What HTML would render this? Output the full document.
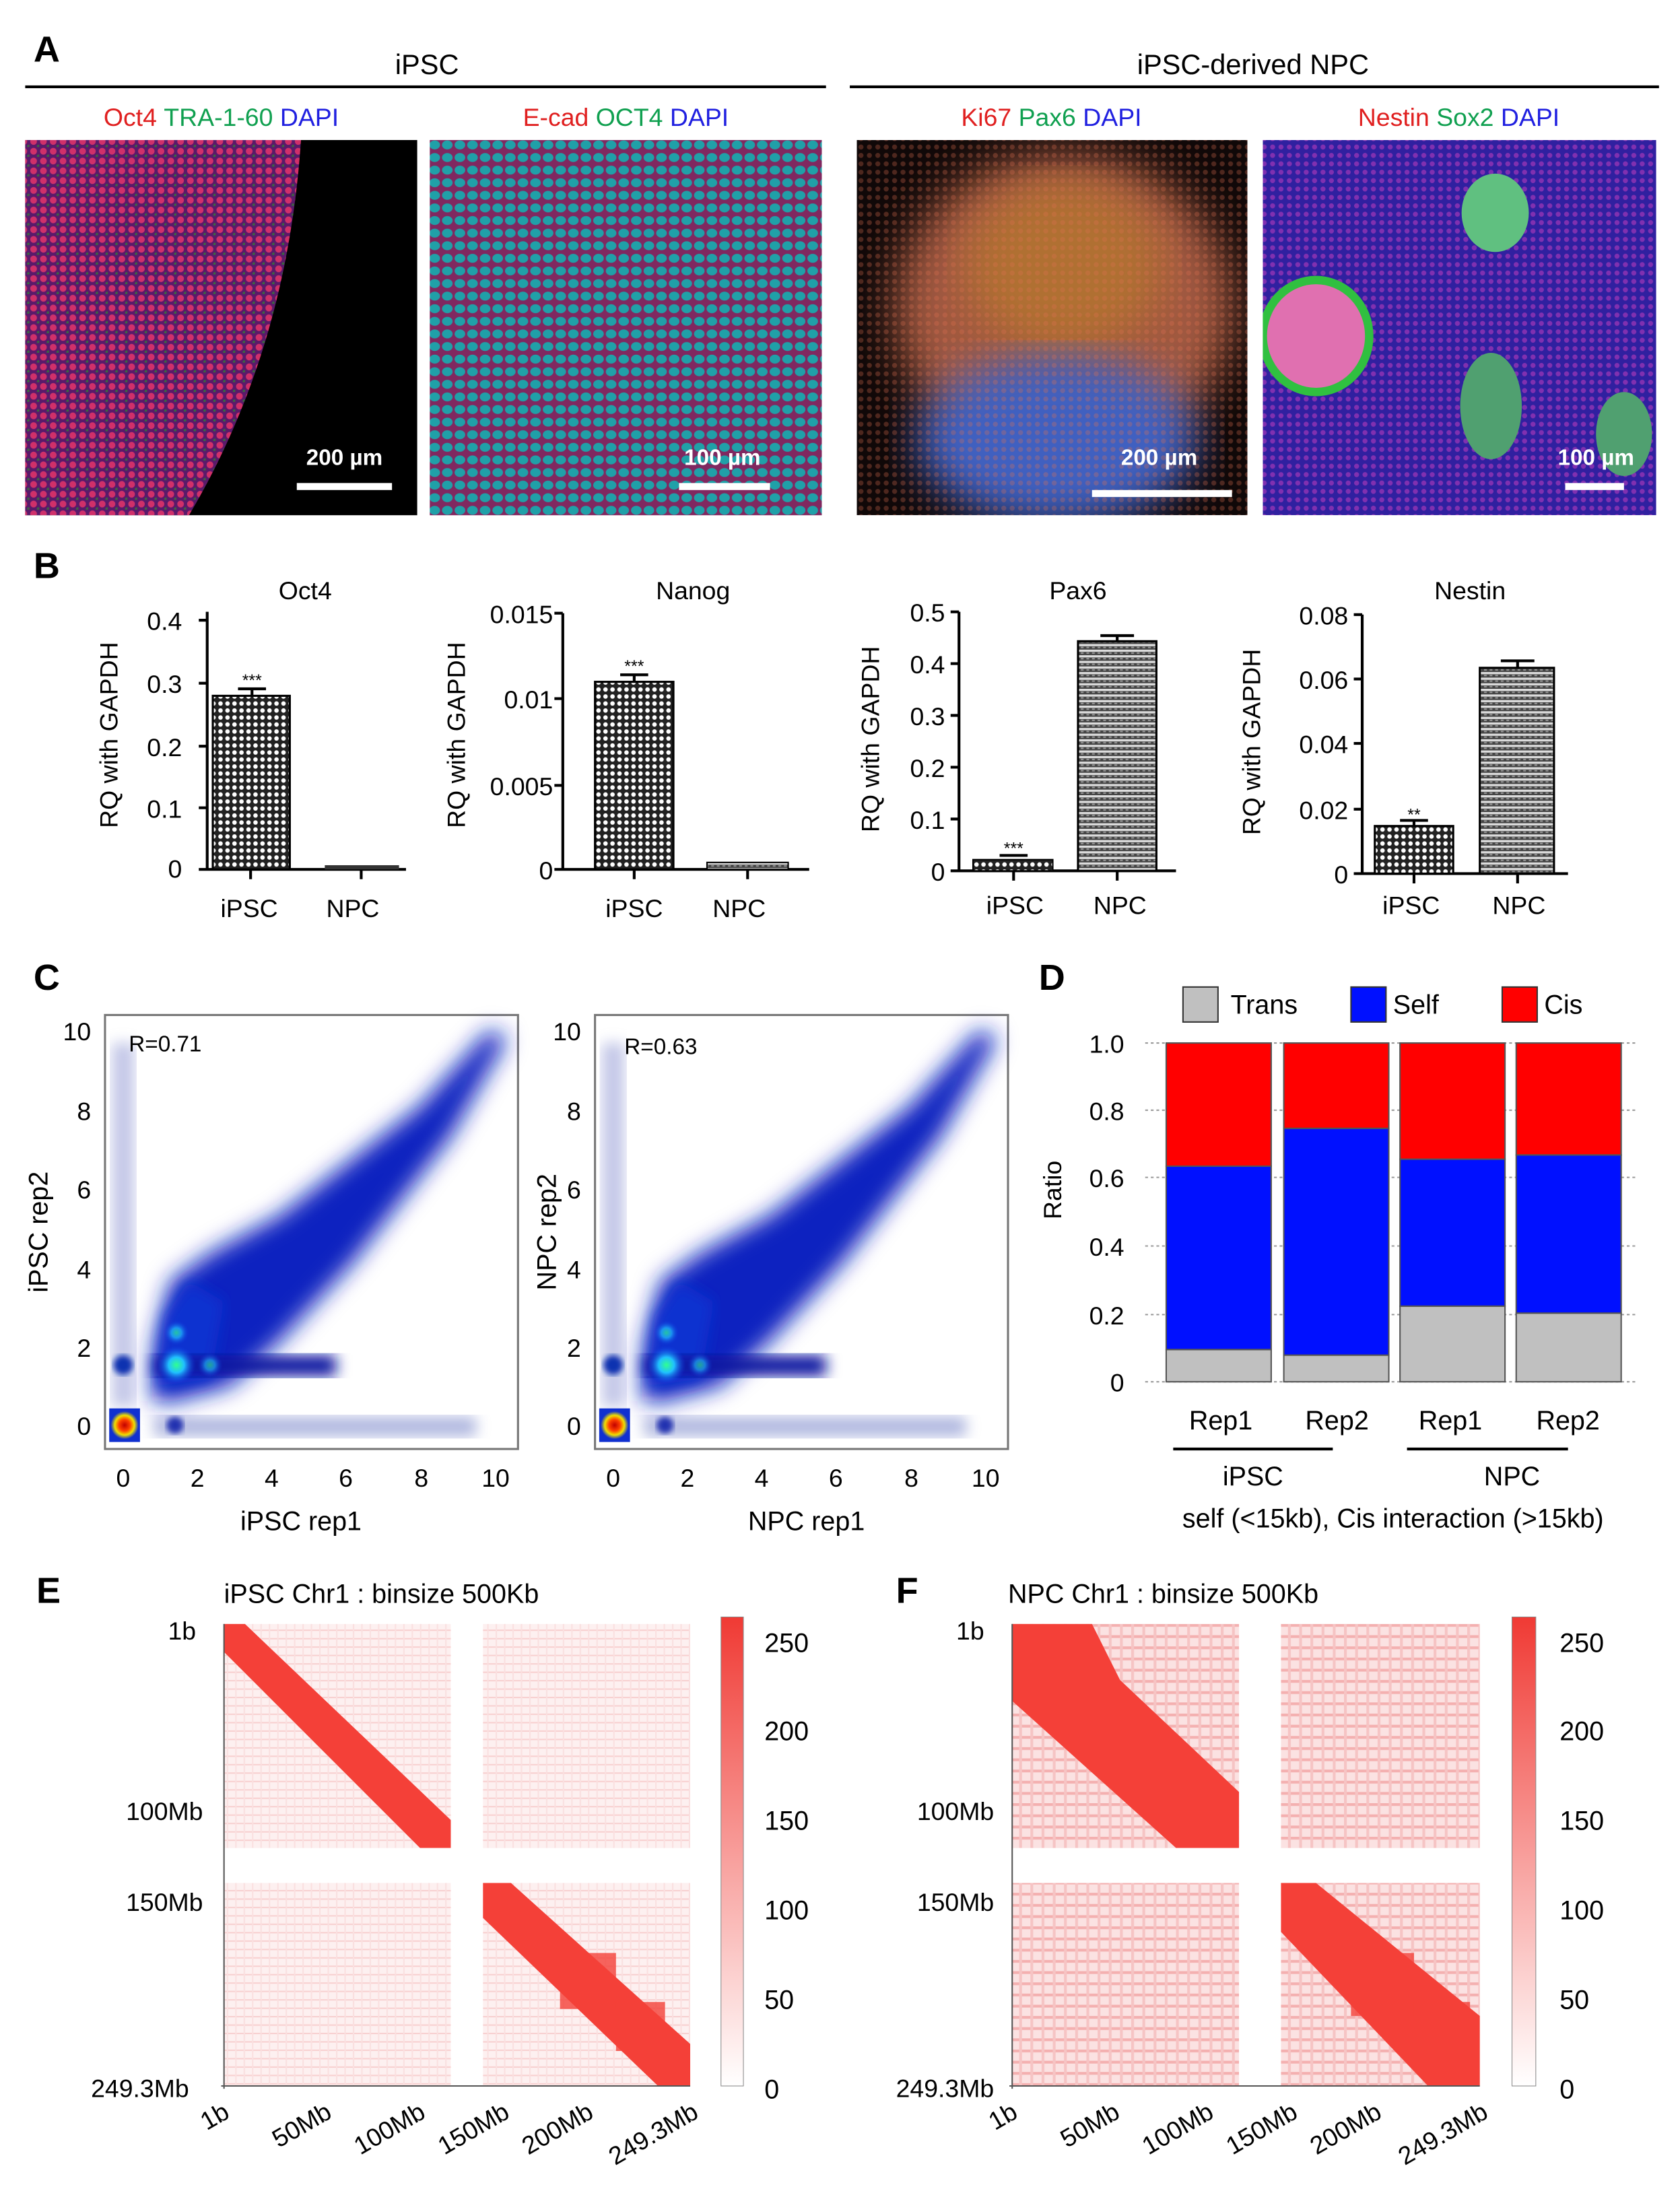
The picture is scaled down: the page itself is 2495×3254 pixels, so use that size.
<!DOCTYPE html>
<html><head><meta charset="utf-8"><style>
html,body{margin:0;padding:0;background:#fff}
svg{display:block}
text{font-family:"Liberation Sans",Arial,sans-serif}
</style></head><body>
<svg width="2495" height="3254" viewBox="0 0 1200 1565" xmlns="http://www.w3.org/2000/svg">
<defs>
<filter id="b2"><feGaussianBlur stdDeviation="2"/></filter>
<filter id="b5"><feGaussianBlur stdDeviation="5"/></filter>
<filter id="b8"><feGaussianBlur stdDeviation="8"/></filter>
<filter id="b15"><feGaussianBlur stdDeviation="15"/></filter>
<clipPath id="c3"><rect x="612" y="100" width="279" height="268"/></clipPath>
<clipPath id="c4"><rect x="902" y="100" width="281" height="268"/></clipPath>
<pattern id="chk" width="5" height="5" patternUnits="userSpaceOnUse"><rect width="5" height="5" fill="#222"/><circle cx="2.5" cy="2.5" r="1.6" fill="#fff"/></pattern>
<pattern id="hs" width="4" height="4" patternUnits="userSpaceOnUse"><rect width="4" height="4" fill="#444"/><rect y="0" width="4" height="1.6" fill="#ddd"/><rect x="0" y="2" width="2" height="1" fill="#999"/></pattern>
<pattern id="p1" width="7" height="7" patternUnits="userSpaceOnUse"><rect width="7" height="7" fill="#5a1a6a"/><circle cx="3" cy="3" r="2.4" fill="#d0306a"/><circle cx="6.5" cy="6.5" r="1.2" fill="#3a6a40"/></pattern>
<pattern id="p2" width="9" height="9" patternUnits="userSpaceOnUse"><rect width="9" height="9" fill="#a02040"/><ellipse cx="4.5" cy="4.5" rx="3.8" ry="3.2" fill="#20c0a0"/></pattern>
<pattern id="p3" width="6" height="6" patternUnits="userSpaceOnUse"><rect width="6" height="6" fill="none"/><circle cx="3" cy="3" r="1.8" fill="#e07050" opacity="0.6"/></pattern>
<pattern id="p4" width="6" height="6" patternUnits="userSpaceOnUse"><rect width="6" height="6" fill="#3020a0"/><circle cx="3" cy="3" r="1.8" fill="#8030b0"/></pattern>
<pattern id="hm" width="6" height="6" patternUnits="userSpaceOnUse"><rect width="6" height="6" fill="#fdf0f0"/><rect width="6" height="1" fill="#f8d0d0"/><rect width="1" height="6" fill="#fae0e0"/></pattern>
<pattern id="hm2" width="8" height="8" patternUnits="userSpaceOnUse"><rect width="8" height="8" fill="#fbe2e2"/><rect width="8" height="2" fill="#f4b0b0"/><rect width="2" height="8" fill="#f6c4c4"/></pattern>
<linearGradient id="cb" x1="0" y1="0" x2="0" y2="1"><stop offset="0" stop-color="#f03a34"/><stop offset="1" stop-color="#fff"/></linearGradient>
<radialGradient id="hot"><stop offset="0" stop-color="#c00000"/><stop offset="0.4" stop-color="#ff4000"/><stop offset="0.7" stop-color="#f0e000"/><stop offset="1" stop-color="#1030d0"/></radialGradient>
<radialGradient id="cy"><stop offset="0" stop-color="#30ff90"/><stop offset="0.4" stop-color="#20c0ff"/><stop offset="1" stop-color="#1030e0" stop-opacity="0"/></radialGradient>
</defs>

<!-- Panel A -->
<text x="24" y="44" font-size="26" font-weight="bold">A</text>
<text x="305" y="53" font-size="20" text-anchor="middle">iPSC</text>
<line x1="18" y1="62" x2="590" y2="62" stroke="#000" stroke-width="2"/>
<text x="895" y="53" font-size="20" text-anchor="middle">iPSC-derived NPC</text>
<line x1="607" y1="62" x2="1185" y2="62" stroke="#000" stroke-width="2"/>
<g font-size="18" text-anchor="middle">
<text x="158" y="90"><tspan fill="#e02020">Oct4</tspan> <tspan fill="#10a050">TRA-1-60</tspan> <tspan fill="#2020e0">DAPI</tspan></text>
<text x="447" y="90"><tspan fill="#e02020">E-cad</tspan> <tspan fill="#10a050">OCT4</tspan> <tspan fill="#2020e0">DAPI</tspan></text>
<text x="751" y="90"><tspan fill="#e02020">Ki67</tspan> <tspan fill="#10a050">Pax6</tspan> <tspan fill="#2020e0">DAPI</tspan></text>
<text x="1042" y="90"><tspan fill="#e02020">Nestin</tspan> <tspan fill="#10a050">Sox2</tspan> <tspan fill="#2020e0">DAPI</tspan></text>
</g>
<rect x="18" y="100" width="280" height="268" fill="#000"/>
<path d="M18 100 L215 100 Q205 250 135 368 L18 368 Z" fill="url(#p1)"/>
<rect x="307" y="100" width="280" height="268" fill="url(#p2)"/>
<rect x="307" y="100" width="280" height="268" fill="#2040c0" opacity="0.25"/>
<g clip-path="url(#c3)">
<rect x="612" y="100" width="279" height="268" fill="#100808"/>
<ellipse cx="760" cy="220" rx="120" ry="110" fill="#a05840" filter="url(#b15)"/>
<ellipse cx="760" cy="190" rx="70" ry="60" fill="#b07030" filter="url(#b15)"/>
<ellipse cx="755" cy="315" rx="100" ry="60" fill="#4060c0" filter="url(#b15)"/>
<rect x="612" y="100" width="279" height="268" fill="url(#p3)" opacity="0.5"/>
</g>
<g clip-path="url(#c4)">
<rect x="902" y="100" width="281" height="268" fill="url(#p4)"/>
<ellipse cx="940" cy="240" rx="38" ry="40" fill="#e070b0"/>
<ellipse cx="940" cy="240" rx="38" ry="40" fill="none" stroke="#30c040" stroke-width="6"/>
<ellipse cx="1068" cy="152" rx="24" ry="28" fill="#60c080"/>
<ellipse cx="1065" cy="290" rx="22" ry="38" fill="#50a070"/>
<ellipse cx="1160" cy="310" rx="20" ry="30" fill="#50a070"/>
</g>
<g fill="#fff" font-size="16" font-weight="bold" text-anchor="middle">
<text x="246" y="332">200 µm</text><rect x="212" y="345" width="68" height="5"/>
<text x="516" y="332">100 µm</text><rect x="485" y="345" width="65" height="5"/>
<text x="828" y="332">200 µm</text><rect x="780" y="350" width="100" height="5"/>
<text x="1140" y="332">100 µm</text><rect x="1118" y="345" width="42" height="5"/>
</g>

<!-- Panel B -->
<text x="24" y="413" font-size="26" font-weight="bold">B</text>
<g font-size="18">
<text x="218" y="428" text-anchor="middle">Oct4</text>
<text x="495" y="428" text-anchor="middle">Nanog</text>
<text x="770" y="428" text-anchor="middle">Pax6</text>
<text x="1050" y="428" text-anchor="middle">Nestin</text>
<g text-anchor="middle">
<text transform="translate(84,525) rotate(-90)">RQ with GAPDH</text>
<text transform="translate(332,525) rotate(-90)">RQ with GAPDH</text>
<text transform="translate(628,528) rotate(-90)">RQ with GAPDH</text>
<text transform="translate(900,530) rotate(-90)">RQ with GAPDH</text>
<text x="178" y="655">iPSC</text><text x="252" y="655">NPC</text>
<text x="453" y="655">iPSC</text><text x="528" y="655">NPC</text>
<text x="725" y="653">iPSC</text><text x="800" y="653">NPC</text>
<text x="1008" y="653">iPSC</text><text x="1085" y="653">NPC</text>
</g>
<g text-anchor="end">
<text x="130" y="450">0.4</text><text x="130" y="495">0.3</text><text x="130" y="540">0.2</text><text x="130" y="584">0.1</text><text x="130" y="627">0</text>
<text x="395" y="445">0.015</text><text x="395" y="506">0.01</text><text x="395" y="568">0.005</text><text x="395" y="628">0</text>
<text x="675" y="444">0.5</text><text x="675" y="481">0.4</text><text x="675" y="518">0.3</text><text x="675" y="555">0.2</text><text x="675" y="592">0.1</text><text x="675" y="629">0</text>
<text x="963" y="446">0.08</text><text x="963" y="492">0.06</text><text x="963" y="538">0.04</text><text x="963" y="585">0.02</text><text x="963" y="631">0</text>
</g>
</g>
<g stroke="#000" stroke-width="2" fill="none">
<path d="M148 437 V621 H290 M142 443 H148 M142 488 H148 M142 533 H148 M142 577 H148 M142 621 H148 M179 621 V628 M258 621 V628"/>
<path d="M402 438 V621 H578 M396 438 H402 M396 499 H402 M396 561 H402 M396 621 H402 M453 621 V628 M534 621 V628"/>
<path d="M685 437 V622 H840 M679 437 H685 M679 474 H685 M679 511 H685 M679 548 H685 M679 585 H685 M679 622 H685 M724 622 V629 M798 622 V629"/>
<path d="M973 439 V624 H1120 M967 439 H973 M967 485 H973 M967 531 H973 M967 578 H973 M967 624 H973 M1010 624 V631 M1084 624 V631"/>
</g>
<rect x="152" y="497" width="55" height="124" fill="url(#chk)" stroke="#000" stroke-width="1.5"/>
<rect x="232" y="618" width="53" height="3" fill="#333"/>
<rect x="425" y="487" width="56" height="134" fill="url(#chk)" stroke="#000" stroke-width="1.5"/>
<rect x="505" y="616" width="58" height="5" fill="url(#hs)" stroke="#000"/>
<rect x="695" y="614" width="57" height="8" fill="url(#chk)" stroke="#000"/>
<rect x="770" y="458" width="56" height="164" fill="url(#hs)" stroke="#000" stroke-width="1.5"/>
<rect x="982" y="590" width="56" height="34" fill="url(#chk)" stroke="#000" stroke-width="1.5"/>
<rect x="1057" y="477" width="53" height="147" fill="url(#hs)" stroke="#000" stroke-width="1.5"/>
<g stroke="#000" stroke-width="2">
<path d="M170 492 H190 M180 492 V497 M443 482 H463 M453 482 V487 M786 454 H810 M798 454 V458 M714 611 H734 M1000 586 H1020 M1010 586 V590 M1072 472 H1096 M1084 472 V477"/>
</g>
<g font-size="12" text-anchor="middle"><text x="180" y="490">***</text><text x="453" y="480">***</text><text x="724" y="610">***</text><text x="1010" y="586">**</text></g>

<!-- Panel C -->
<text x="24" y="707" font-size="26" font-weight="bold">C</text>
<g id="sc">
<rect x="75" y="725" width="295" height="310" fill="#fff" stroke="#777" stroke-width="1.5"/>
<rect x="80" y="745" width="16" height="260" fill="#8890d0" opacity="0.5" filter="url(#b5)"/>
<rect x="110" y="1012" width="230" height="14" fill="#6070c0" opacity="0.5" filter="url(#b5)"/>
<polygon points="108,1000 110,960 122,915 150,895 200,868 300,790 350,735 362,742 322,812 252,902 200,958 165,990 120,1002" fill="#1020c0" filter="url(#b8)"/>
<polygon points="112,990 118,940 135,915 160,930 150,985" fill="#1030d0" filter="url(#b5)"/>
<rect x="110" y="968" width="130" height="15" fill="#0818a0" filter="url(#b5)"/>
<circle cx="126" cy="975" r="14" fill="url(#cy)"/>
<circle cx="126" cy="952" r="9" fill="url(#cy)" opacity="0.7"/>
<circle cx="150" cy="975" r="9" fill="url(#cy)" opacity="0.6"/>
<circle cx="88" cy="975" r="7" fill="#1030b0" filter="url(#b2)"/>
<circle cx="125" cy="1018" r="6" fill="#2030b0" filter="url(#b2)"/>
<rect x="78" y="1006" width="22" height="24" fill="#1030d0"/>
<circle cx="89" cy="1018" r="10" fill="url(#hot)"/>
<g font-size="18" text-anchor="end">
<text x="65" y="743">10</text><text x="65" y="800">8</text><text x="65" y="856">6</text><text x="65" y="913">4</text><text x="65" y="969">2</text><text x="65" y="1025">0</text></g>
<g font-size="18" text-anchor="middle">
<text x="88" y="1062">0</text><text x="141" y="1062">2</text><text x="194" y="1062">4</text><text x="247" y="1062">6</text><text x="301" y="1062">8</text><text x="354" y="1062">10</text></g>
</g>
<use href="#sc" transform="translate(350,0)"/>
<text x="92" y="751" font-size="16">R=0.71</text>
<text x="446" y="753" font-size="16">R=0.63</text>
<text x="215" y="1093" font-size="19" text-anchor="middle">iPSC rep1</text>
<text x="576" y="1093" font-size="19" text-anchor="middle">NPC rep1</text>
<text transform="translate(34,880) rotate(-90)" font-size="19" text-anchor="middle">iPSC rep2</text>
<text transform="translate(397,880) rotate(-90)" font-size="19" text-anchor="middle">NPC rep2</text>

<!-- Panel D -->
<text x="742" y="707" font-size="26" font-weight="bold">D</text>
<rect x="845" y="705" width="25" height="25" fill="#c0c0c0" stroke="#333"/><text x="879" y="724" font-size="19">Trans</text>
<rect x="965" y="705" width="25" height="25" fill="#0010ff" stroke="#333"/><text x="995" y="724" font-size="19">Self</text>
<rect x="1073" y="705" width="25" height="25" fill="#ff0000" stroke="#333"/><text x="1103" y="724" font-size="19">Cis</text>
<g stroke="#999" stroke-dasharray="2,2"><path d="M818 745 H1170 M818 793 H1170 M818 841 H1170 M818 890 H1170 M818 939 H1170 M818 987 H1170"/></g>
<g font-size="18" text-anchor="end"><text x="803" y="752">1.0</text><text x="803" y="800">0.8</text><text x="803" y="848">0.6</text><text x="803" y="897">0.4</text><text x="803" y="946">0.2</text><text x="803" y="994">0</text></g>
<text transform="translate(758,850) rotate(-90)" font-size="18" text-anchor="middle">Ratio</text>
<g stroke="#555" stroke-width="1">
<rect x="833" y="745" width="75" height="88" fill="#ff0000"/><rect x="833" y="833" width="75" height="131" fill="#0010ff"/><rect x="833" y="964" width="75" height="23" fill="#c0c0c0"/>
<rect x="917" y="745" width="75" height="61" fill="#ff0000"/><rect x="917" y="806" width="75" height="162" fill="#0010ff"/><rect x="917" y="968" width="75" height="19" fill="#c0c0c0"/>
<rect x="1000" y="745" width="75" height="83" fill="#ff0000"/><rect x="1000" y="828" width="75" height="105" fill="#0010ff"/><rect x="1000" y="933" width="75" height="54" fill="#c0c0c0"/>
<rect x="1083" y="745" width="75" height="80" fill="#ff0000"/><rect x="1083" y="825" width="75" height="113" fill="#0010ff"/><rect x="1083" y="938" width="75" height="49" fill="#c0c0c0"/>
</g>
<g font-size="19" text-anchor="middle">
<text x="872" y="1021">Rep1</text><text x="955" y="1021">Rep2</text><text x="1036" y="1021">Rep1</text><text x="1120" y="1021">Rep2</text>
<text x="895" y="1061">iPSC</text><text x="1080" y="1061">NPC</text>
<text x="995" y="1091">self (&lt;15kb), Cis interaction (&gt;15kb)</text>
</g>
<path d="M838 1035 H952 M1005 1035 H1120" stroke="#000" stroke-width="2"/>

<!-- Panel E -->
<text x="26" y="1145" font-size="26" font-weight="bold">E</text>
<text x="160" y="1145" font-size="19">iPSC Chr1 : binsize 500Kb</text>
<rect x="160" y="1160" width="162" height="160" fill="url(#hm)"/>
<rect x="345" y="1160" width="148" height="160" fill="url(#hm)"/>
<rect x="160" y="1345" width="162" height="145" fill="url(#hm)"/>
<rect x="345" y="1345" width="148" height="145" fill="url(#hm)"/>
<polygon points="160,1160 175,1160 322,1300 322,1320 300,1320 160,1180" fill="#f44038"/>
<polygon points="345,1345 365,1345 493,1460 493,1490 470,1490 345,1370" fill="#f44038"/>
<g fill="#f44038" opacity="0.8"><rect x="400" y="1395" width="40" height="40"/><rect x="440" y="1430" width="35" height="35"/></g>
<line x1="160" y1="1160" x2="160" y2="1492" stroke="#555"/>
<line x1="158" y1="1490" x2="493" y2="1490" stroke="#555"/>
<g font-size="18" text-anchor="end">
<text x="140" y="1171">1b</text><text x="145" y="1300">100Mb</text><text x="145" y="1365">150Mb</text><text x="135" y="1498">249.3Mb</text>
<text transform="translate(165,1512) rotate(-30)">1b</text>
<text transform="translate(238,1512) rotate(-30)">50Mb</text>
<text transform="translate(305,1512) rotate(-30)">100Mb</text>
<text transform="translate(365,1512) rotate(-30)">150Mb</text>
<text transform="translate(425,1512) rotate(-30)">200Mb</text>
<text transform="translate(500,1512) rotate(-30)">249.3Mb</text>
</g>
<rect x="515" y="1155" width="16" height="335" fill="url(#cb)" stroke="#888" stroke-width="0.5"/>
<g font-size="19"><text x="546" y="1180">250</text><text x="546" y="1243">200</text><text x="546" y="1307">150</text><text x="546" y="1371">100</text><text x="546" y="1435">50</text><text x="546" y="1499">0</text></g>

<!-- Panel F -->
<text x="640" y="1145" font-size="26" font-weight="bold">F</text>
<text x="720" y="1145" font-size="19">NPC Chr1 : binsize 500Kb</text>
<rect x="723" y="1160" width="162" height="160" fill="url(#hm2)"/>
<rect x="915" y="1160" width="142" height="160" fill="url(#hm2)"/>
<rect x="723" y="1345" width="162" height="145" fill="url(#hm2)"/>
<rect x="915" y="1345" width="142" height="145" fill="url(#hm2)"/>
<polygon points="723,1160 780,1160 800,1200 885,1280 885,1320 840,1320 723,1215" fill="#f44038"/>
<polygon points="915,1345 940,1345 1057,1440 1057,1490 1020,1490 915,1380" fill="#f44038"/>
<g fill="#f44038" opacity="0.8"><rect x="965" y="1395" width="45" height="45"/><rect x="1010" y="1430" width="40" height="40"/></g>
<line x1="723" y1="1160" x2="723" y2="1492" stroke="#555"/>
<line x1="721" y1="1490" x2="1057" y2="1490" stroke="#555"/>
<g font-size="18" text-anchor="end">
<text x="703" y="1171">1b</text><text x="710" y="1300">100Mb</text><text x="710" y="1365">150Mb</text><text x="710" y="1498">249.3Mb</text>
<text transform="translate(728,1512) rotate(-30)">1b</text>
<text transform="translate(801,1512) rotate(-30)">50Mb</text>
<text transform="translate(868,1512) rotate(-30)">100Mb</text>
<text transform="translate(928,1512) rotate(-30)">150Mb</text>
<text transform="translate(988,1512) rotate(-30)">200Mb</text>
<text transform="translate(1064,1512) rotate(-30)">249.3Mb</text>
</g>
<rect x="1080" y="1155" width="17" height="335" fill="url(#cb)" stroke="#888" stroke-width="0.5"/>
<g font-size="19"><text x="1114" y="1180">250</text><text x="1114" y="1243">200</text><text x="1114" y="1307">150</text><text x="1114" y="1371">100</text><text x="1114" y="1435">50</text><text x="1114" y="1499">0</text></g>
</svg>
</body></html>
